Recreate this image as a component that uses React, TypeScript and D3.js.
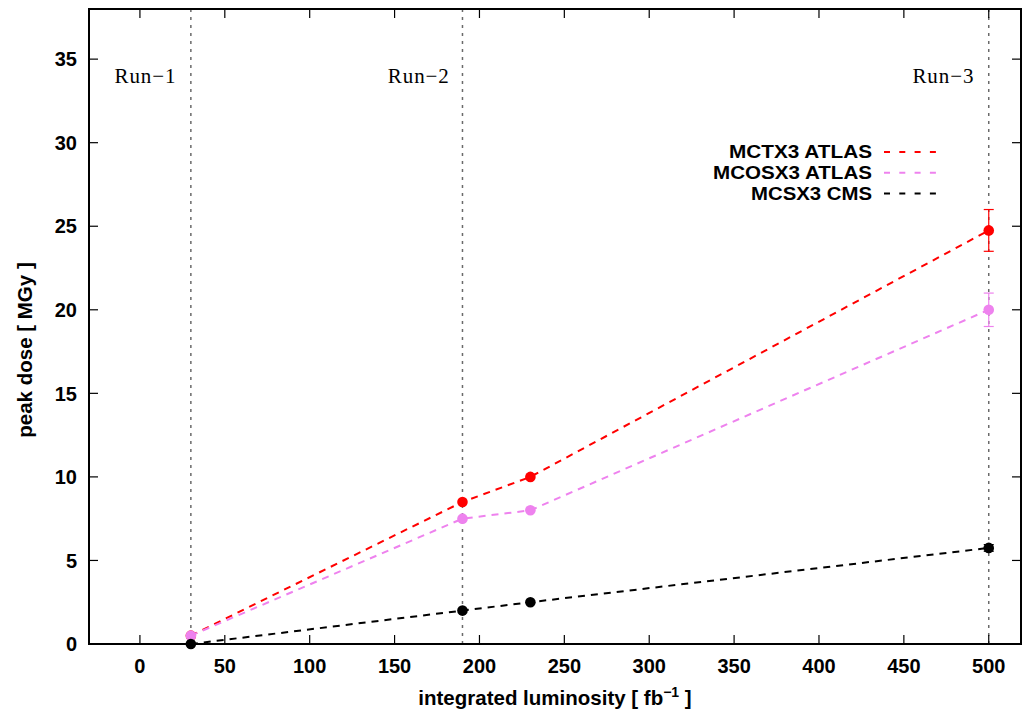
import React from "react";
import * as d3 from "d3";

const lumi = [30, 190, 230, 500];
const mctx3 = [0.5, 8.5, 10, 24.75];
const mctx3Err = [0, 0, 0, 1.25];
const mcosx3 = [0.5, 7.5, 8, 20];
const mcosx3Err = [0, 0, 0, 1];
const mcsx3 = [0, 2, 2.5, 5.75];
const mcsx3Err = [0, 0, 0, 0.2];
const seriesNames = ["MCTX3 ATLAS", "MCOSX3 ATLAS", "MCSX3 CMS"];
const seriesColors = ["#ff0000", "#ee82ee", "#000000"];
const runLines = [30, 190, 500];
const runLabels = ["Run\u22121", "Run\u22122", "Run\u22123"];
const runLabelX = [3, 164, 473];
const xTicks = [0, 50, 100, 150, 200, 250, 300, 350, 400, 450, 500];
const yTicks = [0, 5, 10, 15, 20, 25, 30, 35];

const W = 1024;
const H = 714;
const L = 89, R = 1021, T = 9, B = 644;

export default function App() {
  const x = d3.scaleLinear().domain([-30, 519]).range([L, R]);
  const y = d3.scaleLinear().domain([0, 38]).range([B, T]);
  const line = d3
    .line<[number, number]>()
    .x((d) => x(d[0]))
    .y((d) => y(d[1]));
  const series = [
    { vals: mctx3, err: mctx3Err },
    { vals: mcosx3, err: mcosx3Err },
    { vals: mcsx3, err: mcsx3Err },
  ];
  const legendWidths = [143, 159, 121];
  const font = "'Liberation Sans', Arial, sans-serif";
  return (
    <svg
      width={W}
      height={H}
      style={{ position: "absolute", left: 0, top: 0, background: "#fff" }}
    >
      <rect x={0} y={0} width={W} height={H} fill="#fff" />
      {/* run lines */}
      {runLines.map((v, i) => (
        <line
          key={"rl" + i}
          x1={x(v)}
          x2={x(v)}
          y1={T}
          y2={B}
          stroke="#6a6a6a"
          strokeWidth={1.5}
          strokeDasharray="3,5"
        />
      ))}
      {runLabels.map((t, i) => (
        <text
          key={"rt" + i}
          x={x(runLabelX[i])}
          y={83}
          fontFamily="'Liberation Serif', 'DejaVu Serif', serif"
          fontSize={21}
          textAnchor="middle"
          textLength={61}
          lengthAdjust="spacing"
          fill="#000"
        >
          {t}
        </text>
      ))}
      {/* ticks */}
      {xTicks.map((v) => (
        <g key={"xt" + v}>
          <line x1={x(v)} x2={x(v)} y1={B} y2={B - 9} stroke="#000" strokeWidth={1.2} />
          <line x1={x(v)} x2={x(v)} y1={T} y2={T + 9} stroke="#000" strokeWidth={1.2} />
          <text
            x={x(v)}
            y={673}
            textAnchor="middle"
            fontFamily={font}
            fontWeight="bold"
            fontSize={20}
          >
            {v}
          </text>
        </g>
      ))}
      {yTicks.map((v) => (
        <g key={"yt" + v}>
          <line x1={L} x2={L + 9} y1={y(v)} y2={y(v)} stroke="#000" strokeWidth={1.2} />
          <line x1={R} x2={R - 9} y1={y(v)} y2={y(v)} stroke="#000" strokeWidth={1.2} />
          <text
            x={77}
            y={y(v)}
            dy="0.36em"
            textAnchor="end"
            fontFamily={font}
            fontWeight="bold"
            fontSize={20}
          >
            {v}
          </text>
        </g>
      ))}
      {/* series */}
      {series.map((s, si) => {
        const pts: [number, number][] = lumi.map((l, i) => [l, s.vals[i]]);
        const c = seriesColors[si];
        return (
          <g key={"s" + si}>
            <path
              d={line(pts) || ""}
              fill="none"
              stroke={c}
              strokeWidth={2}
              strokeDasharray="7,6"
            />
            {pts.map((p, i) =>
              s.err[i] > 0 ? (
                <g key={"e" + i}>
                  <line
                    x1={x(p[0])}
                    x2={x(p[0])}
                    y1={y(p[1] - s.err[i])}
                    y2={y(p[1] + s.err[i])}
                    stroke={c}
                    strokeWidth={1.2}
                  />
                  <line
                    x1={x(p[0]) - 5}
                    x2={x(p[0]) + 5}
                    y1={y(p[1] - s.err[i])}
                    y2={y(p[1] - s.err[i])}
                    stroke={c}
                    strokeWidth={1.2}
                  />
                  <line
                    x1={x(p[0]) - 5}
                    x2={x(p[0]) + 5}
                    y1={y(p[1] + s.err[i])}
                    y2={y(p[1] + s.err[i])}
                    stroke={c}
                    strokeWidth={1.2}
                  />
                </g>
              ) : null
            )}
            {pts.map((p, i) => (
              <circle key={"c" + i} cx={x(p[0])} cy={y(p[1])} r={5.3} fill={c} />
            ))}
          </g>
        );
      })}
      {/* legend */}
      {seriesNames.map((n, i) => (
        <g key={"lg" + i}>
          <text
            x={872}
            y={152 + i * 20.8}
            dy="0.36em"
            textAnchor="end"
            fontFamily={font}
            fontWeight="bold"
            fontSize={18}
            textLength={legendWidths[i]}
            lengthAdjust="spacingAndGlyphs"
          >
            {n}
          </text>
          <line
            x1={884}
            x2={936}
            y1={152 + i * 20.8}
            y2={152 + i * 20.8}
            stroke={seriesColors[i]}
            strokeWidth={2}
            strokeDasharray="6,9.3"
          />
        </g>
      ))}
      {/* frame */}
      <rect x={L} y={T} width={R - L} height={B - T} fill="none" stroke="#000" strokeWidth={2} />
      {/* axis titles */}
      <text
        x={555}
        y={705}
        textAnchor="middle"
        fontFamily={font}
        fontWeight="bold"
        fontSize={20.5}
      >
        integrated luminosity [ fb
        <tspan fontSize={14} dy={-8}>
          {"\u22121"}
        </tspan>
        <tspan dy={8}> ]</tspan>
      </text>
      <text
        transform={`translate(32,350) rotate(-90)`}
        textAnchor="middle"
        fontFamily={font}
        fontWeight="bold"
        fontSize={20.5}
      >
        peak dose [ MGy ]
      </text>
    </svg>
  );
}
